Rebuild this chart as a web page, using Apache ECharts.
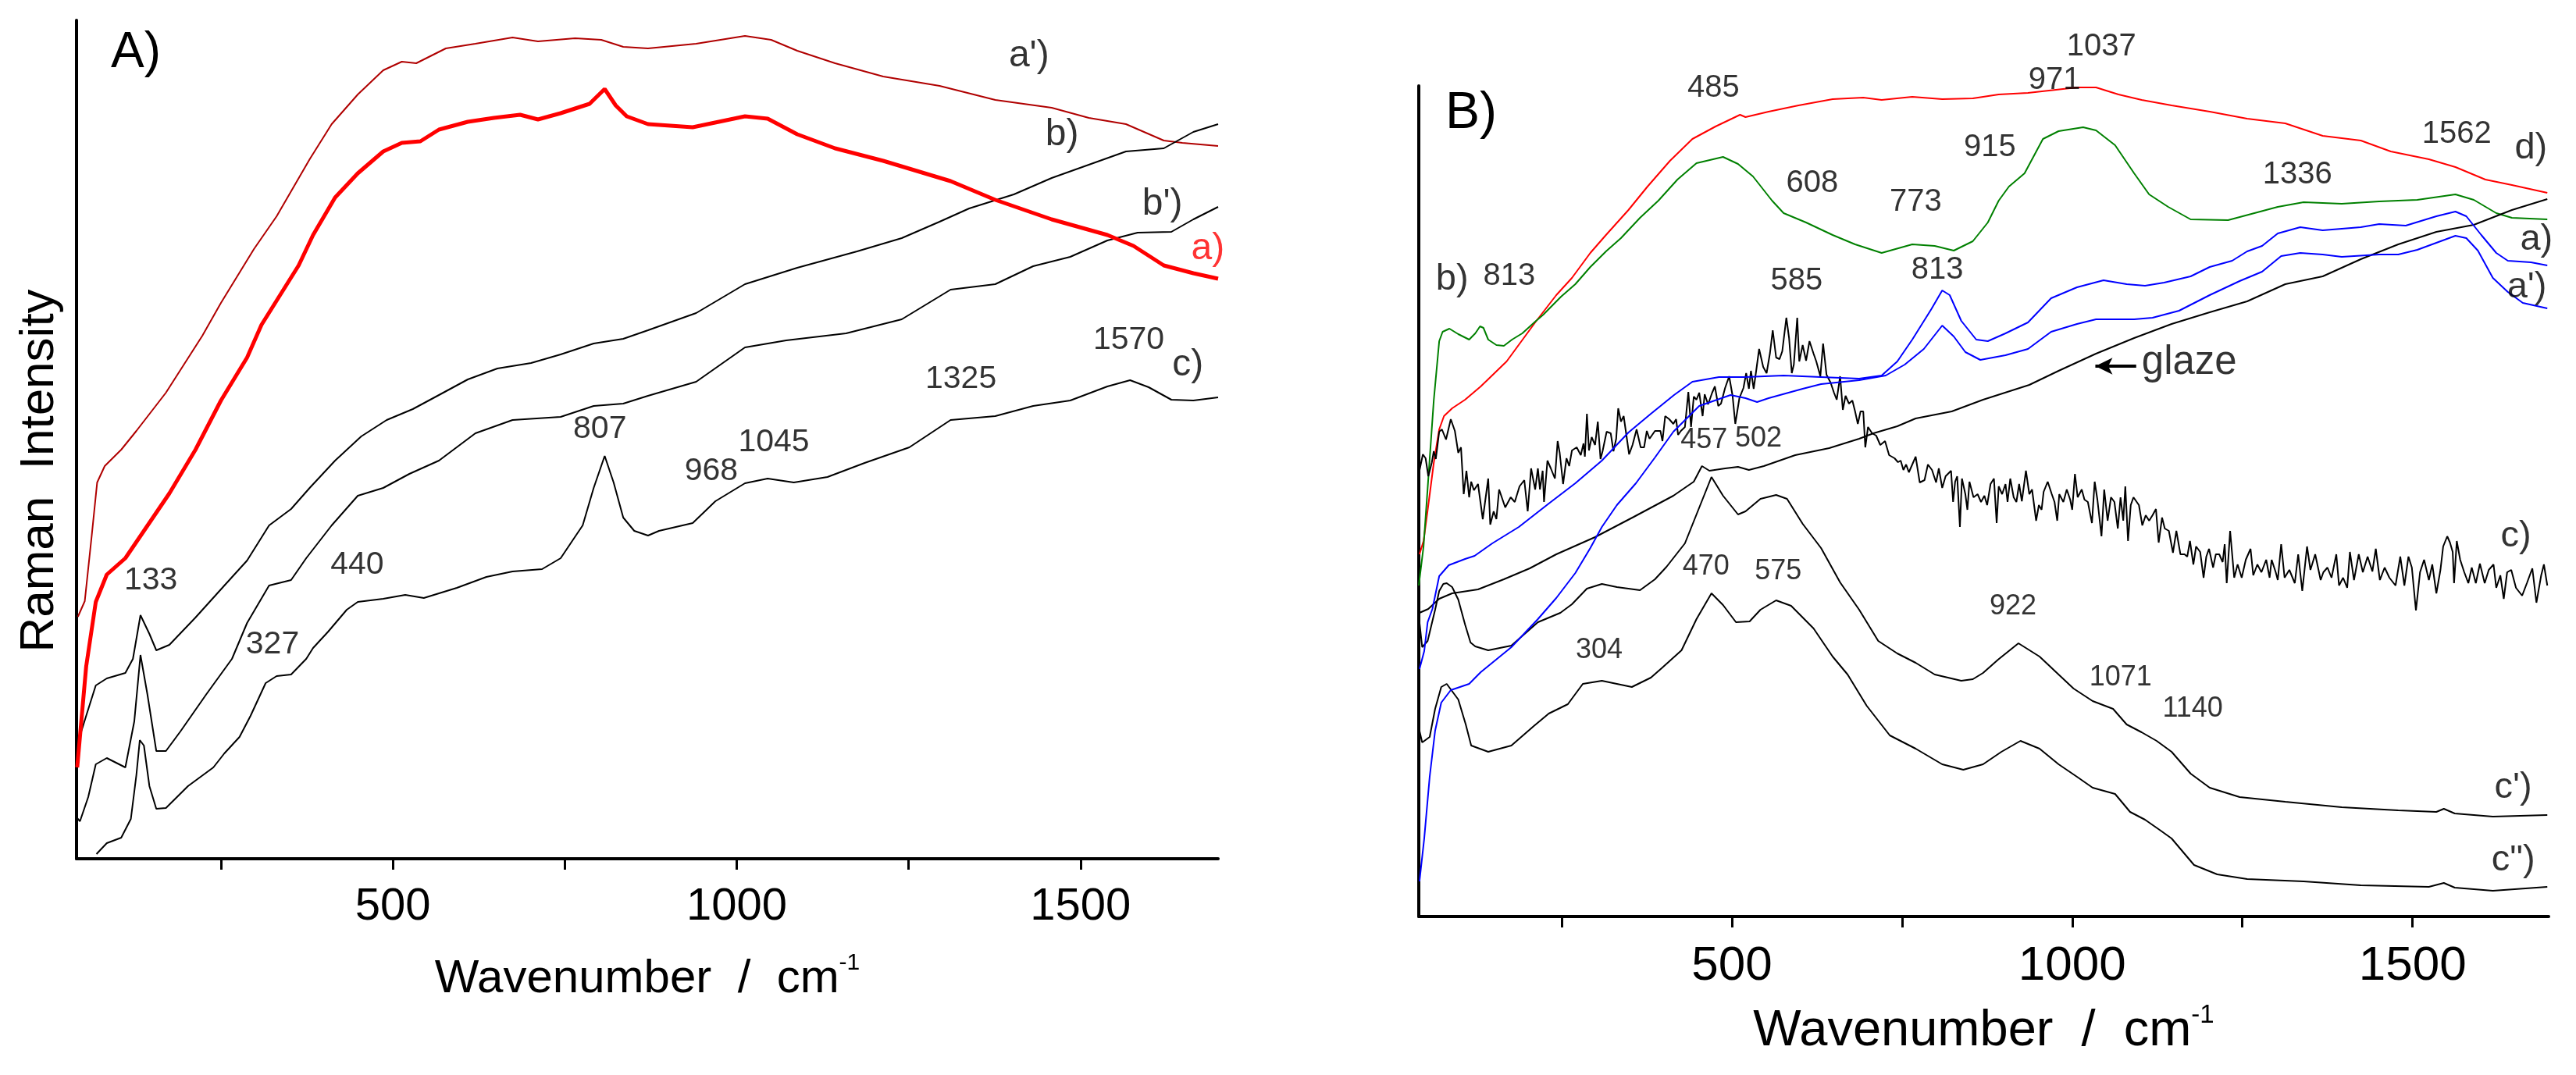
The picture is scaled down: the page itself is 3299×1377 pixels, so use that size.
<!DOCTYPE html>
<html>
<head>
<meta charset="utf-8">
<script src="https://cdn.jsdelivr.net/npm/echarts@6.0.0/dist/echarts.min.js"></script>
<style>
html, body { margin: 0; padding: 0; background: #fff; }
#chart { width: 3299px; height: 1377px; }
</style>
</head>
<body>
<div id="chart"></div>
<script>
// Raman spectra, intensity in arbitrary units

// ---- panel A ----
var aPrimeA = [[42,310],[52,330],[62,413],[70,482],[81,503],[105,524],[127,548],[170,597],[223,670],[250,712],[298,781],[331,823],[379,896],[411,941],[449,979],[486,1010],[513,1021],[534,1019],[577,1038],[620,1044],[674,1052],[711,1047],[765,1051],[803,1049],[835,1040],[871,1038],[941,1044],[1012,1054],[1050,1049],[1088,1035],[1143,1019],[1213,1002],[1295,990],[1376,972],[1458,962],[1512,949],[1566,941],[1621,920],[1648,917],[1700,913]];
var aA = [[41,117],[54,246],[68,329],[84,364],[111,385],[138,420],[175,468],[213,524],[250,587],[288,642],[309,684],[363,760],[384,799],[416,847],[449,878],[486,906],[513,917],[540,919],[567,934],[609,944],[647,949],[685,953],[711,947],[744,955],[786,967],[808,986],[824,965],[840,951],[871,941],[936,937],[1012,951],[1045,948],[1088,928],[1143,910],[1213,894],[1311,868],[1376,844],[1458,819],[1539,799],[1577,785],[1621,760],[1664,750],[1700,743]];
var bA = [[42,149],[54,183],[68,222],[84,231],[111,238],[122,256],[133,312],[146,288],[156,267],[175,274],[213,309],[255,350],[288,382],[320,427],[352,448],[379,475],[416,510],[454,541],[491,562],[529,576],[567,594],[609,614],[652,628],[701,635],[744,646],[792,660],[835,666],[871,677],[941,699],[1012,736],[1088,757],[1175,778],[1240,795],[1295,816],[1338,833],[1403,851],[1458,872],[1512,889],[1566,906],[1621,910],[1664,931],[1700,941]];
var bPrimeA = [[41,52],[45,48],[57,79],[68,121],[84,129],[111,117],[124,176],[133,261],[143,211],[156,138],[170,138],[191,163],[229,211],[266,256],[288,302],[320,350],[352,357],[374,385],[411,427],[449,465],[486,475],[524,493],[567,510],[620,545],[674,562],[744,566],[792,580],[835,583],[871,593],[941,611],[1012,655],[1072,664],[1159,673],[1240,691],[1311,729],[1376,736],[1431,759],[1485,771],[1539,792],[1583,802],[1632,803],[1664,819],[1700,835]];
var cA = [[69,6],[84,20],[105,27],[119,51],[127,107],[132,152],[138,145],[146,93],[156,64],[170,65],[202,93],[239,117],[255,135],[277,156],[293,183],[315,225],[331,234],[352,236],[374,256],[384,270],[406,291],[433,319],[449,329],[486,333],[518,338],[545,334],[593,347],[636,361],[674,368],[717,371],[744,385],[776,427],[792,475],[808,516],[821,482],[835,437],[851,420],[871,414],[887,420],[936,430],[969,458],[1012,481],[1045,487],[1083,482],[1132,489],[1186,507],[1251,527],[1311,562],[1376,567],[1431,580],[1485,587],[1539,605],[1572,613],[1599,604],[1632,588],[1664,587],[1700,591]];

// ---- panel B ----
var dB = [[41,464],[47,481],[54,527],[62,581],[70,624],[77,641],[89,651],[108,662],[131,679],[169,711],[211,761],[242,796],[265,818],[292,850],[315,873],[348,905],[376,935],[409,968],[442,996],[476,1012],[512,1027],[520,1024],[554,1031],[598,1039],[648,1047],[693,1049],[720,1046],[765,1050],[809,1047],[854,1048],[892,1053],[935,1055],[1007,1062],[1035,1062],[1068,1053],[1102,1046],[1146,1039],[1202,1031],[1257,1022],[1313,1016],[1368,1000],[1424,994],[1468,980],[1524,970],[1563,960],[1607,944],[1646,937],[1698,927]];
var bB = [[40,424],[47,474],[54,561],[62,661],[70,737],[75,749],[85,753],[98,746],[114,739],[123,747],[130,756],[135,754],[142,739],[154,732],[165,731],[177,739],[192,747],[211,762],[223,771],[249,794],[270,810],[292,832],[315,852],[337,869],[365,895],[392,917],[420,944],[448,965],[487,973],[509,964],[531,948],[559,917],[576,901],[609,889],[648,873],[681,861],[720,850],[765,861],[798,859],[826,853],[854,865],[876,889],[892,917],[907,935],[930,952],[957,996],[980,1006],[1016,1011],[1035,1007],[1063,988],[1091,952],[1113,925],[1141,909],[1174,893],[1229,892],[1302,909],[1340,915],[1396,913],[1451,916],[1507,918],[1563,925],[1590,918],[1623,901],[1646,895],[1698,893]];
var aB = [[41,317],[48,340],[53,377],[60,394],[70,436],[84,450],[108,458],[122,462],[148,478],[187,499],[231,529],[270,555],[309,584],[348,620],[381,644],[415,668],[442,685],[481,691],[520,691],[576,693],[631,691],[687,689],[720,693],[743,711],[765,739],[793,778],[809,802],[820,796],[837,763],[859,739],[876,737],[902,747],[935,761],[969,792],[1007,806],[1046,815],[1080,810],[1107,808],[1135,812],[1174,820],[1202,832],[1235,840],[1257,852],[1279,859],[1302,875],[1335,883],[1368,879],[1424,883],[1451,887],[1490,885],[1535,897],[1563,903],[1579,897],[1601,873],[1623,850],[1640,840],[1674,838],[1698,834]];
var aPrimeB = [[41,45],[48,100],[56,179],[64,238],[73,274],[87,290],[114,298],[131,313],[176,345],[215,381],[242,408],[270,440],[292,472],[309,499],[331,527],[359,555],[387,588],[414,621],[452,654],[498,668],[520,664],[537,659],[554,664],[604,676],[631,682],[687,687],[726,693],[754,707],[782,727],[809,757],[826,743],[843,723],[865,713],[902,719],[935,727],[969,749],[1007,759],[1035,765],[1091,765],[1118,767],[1157,776],[1202,796],[1246,814],[1279,826],[1307,846],[1335,850],[1368,848],[1396,845],[1451,848],[1479,848],[1507,854],[1535,863],[1563,872],[1579,869],[1596,853],[1618,818],[1640,800],[1662,786],[1698,779]];
var glazeB = [[41,389],[54,394],[70,407],[89,414],[127,419],[165,432],[203,446],[242,464],[299,486],[356,512],[414,539],[444,557],[456,577],[467,571],[490,574],[509,576],[525,572],[547,577],[593,591],[643,600],[687,612],[708,619],[743,628],[770,638],[823,647],[869,662],[937,681],[980,699],[1035,721],[1091,741],[1146,759],[1202,774],[1257,788],[1313,810],[1368,820],[1424,842],[1479,861],[1535,877],[1590,886],[1646,905],[1698,919]];
var cB = [[40,567],[46,592],[50,587],[54,564],[59,581],[62,596],[65,586],[70,621],[74,624],[80,611],[87,637],[93,622],[98,594],[102,601],[106,541],[110,571],[114,537],[117,557],[121,546],[127,554],[134,509],[142,561],[145,502],[150,519],[154,509],[158,547],[167,524],[175,537],[181,531],[188,551],[195,559],[200,519],[205,574],[211,547],[215,574],[218,547],[222,571],[224,531],[229,584],[234,574],[240,561],[244,609],[247,594],[252,554],[257,587],[261,577],[265,597],[272,601],[278,591],[282,606],[284,589],[287,644],[290,597],[294,614],[299,604],[303,634],[307,586],[310,596],[316,621],[322,619],[326,596],[330,612],[333,651],[337,634],[341,641],[349,592],[354,604],[360,624],[366,601],[371,601],[375,622],[379,612],[387,622],[395,622],[398,609],[402,641],[408,637],[414,631],[418,637],[421,617],[425,622],[431,627],[436,672],[440,627],[444,666],[448,662],[452,671],[457,641],[460,669],[465,656],[471,671],[475,679],[480,654],[484,657],[490,677],[496,692],[501,667],[505,631],[511,664],[517,677],[521,696],[525,676],[528,699],[532,676],[536,701],[540,727],[546,704],[551,696],[556,722],[560,751],[565,716],[570,714],[574,724],[580,767],[584,741],[588,696],[591,707],
  [596,767],[599,711],[604,732],[609,712],[614,737],[620,721],[624,711],[630,692],[634,734],[639,694],[645,684],[650,671],[654,662],[659,692],[663,649],[667,667],[672,657],[677,661],[681,647],[685,631],[689,647],[693,647],[696,601],[700,627],[706,619],[712,616],[718,604],[725,609],[731,591],[739,587],[744,582],[748,584],[752,572],[756,579],[760,569],[765,579],[770,589],[776,556],[783,559],[788,579],[794,572],[800,556],[804,574],[809,549],[814,564],[822,571],[825,531],[828,557],[831,564],[835,499],[838,561],[843,541],[846,521],[849,557],[855,537],[861,541],[866,531],[871,539],[875,527],[880,554],[885,561],[889,504],[892,551],[897,541],[902,554],[905,531],[909,561],[914,537],[918,531],[922,554],[926,532],[932,571],[937,541],[941,547],[947,507],[951,527],[955,521],[958,544],[964,557],[970,541],[974,531],[978,507],[981,541],[987,531],[992,547],[997,534],[1000,521],[1004,567],[1008,537],[1014,547],[1018,534],[1023,531],[1029,504],[1033,557],[1037,534],[1043,487],[1047,547],[1052,507],[1057,537],[1062,531],[1067,497],[1071,537],[1075,507],[1078,551],[1082,481],[1086,527],[1090,537],[1098,527],[1103,501],[1108,514],[1113,507],[1118,514],[1123,522],[1127,479],[1132,511],[1136,497],[1142,494],[1148,466],[1153,494],
  [1159,464],[1165,464],[1169,461],[1173,481],[1178,451],[1182,474],[1188,467],[1193,434],[1197,461],[1201,471],[1207,447],[1211,464],[1216,464],[1221,454],[1224,477],[1227,427],[1232,494],[1238,434],[1243,451],[1249,434],[1255,457],[1262,471],[1266,437],[1272,451],[1278,441],[1285,457],[1290,434],[1293,457],[1299,441],[1302,431],[1307,477],[1312,434],[1319,444],[1327,427],[1332,464],[1338,417],[1345,474],[1350,444],[1357,464],[1365,431],[1369,441],[1375,447],[1381,434],[1388,464],[1392,424],[1398,434],[1404,421],[1408,467],[1414,431],[1421,464],[1427,441],[1434,461],[1441,442],[1446,471],[1452,431],[1459,447],[1466,434],[1475,424],[1482,461],[1488,424],[1494,461],[1499,447],[1505,392],[1511,441],[1517,457],[1524,431],[1529,451],[1535,414],[1541,444],[1545,474],[1551,487],[1555,479],[1559,467],[1561,427],[1565,481],[1570,457],[1576,441],[1582,427],[1587,447],[1593,427],[1599,452],[1606,427],[1612,444],[1619,451],[1623,421],[1629,437],[1634,407],[1639,441],[1645,444],[1652,421],[1661,411],[1668,427],[1676,446],[1682,402],[1689,437],[1693,451],[1698,424]];
var cPrimeB = [[41,377],[45,345],[53,353],[64,393],[70,417],[76,426],[81,427],[89,422],[98,406],[108,374],[116,351],[123,346],[142,341],[176,347],[215,377],[248,389],[265,400],[287,420],[309,426],[331,422],[365,418],[387,432],[404,448],[431,478],[448,515],[470,563],[487,539],[509,515],[520,519],[542,535],[565,540],[581,535],[604,503],[631,472],[659,428],[687,393],[715,353],[743,337],[770,325],[798,310],[837,302],[854,304],[869,312],[891,329],[921,350],[952,333],[980,310],[1002,292],[1030,276],[1060,266],[1080,246],[1102,236],[1124,225],[1146,211],[1174,183],[1202,165],[1246,153],[1313,147],[1396,140],[1479,136],[1535,134],[1546,138],[1562,132],[1618,128],[1698,130]];
var cDoubleB = [[41,238],[45,223],[56,230],[64,266],[73,294],[81,298],[98,278],[109,246],[117,219],[142,211],[176,219],[209,244],[231,260],[259,272],[281,298],[309,302],[331,298],[353,294],[381,306],[398,319],[426,341],[448,381],[470,414],[487,399],[506,377],[526,378],[542,393],[565,405],[587,398],[620,369],[648,333],[670,310],[698,270],[732,232],[770,215],[809,195],[840,188],[869,195],[896,211],[924,225],[952,215],[980,195],[1007,179],[1030,165],[1063,157],[1085,134],[1107,124],[1130,110],[1146,100],[1179,66],[1213,54],[1257,48],[1340,45],[1424,40],[1524,38],[1546,43],[1562,37],[1618,33],[1698,38]];

// tick positions (cm-1)
var tickValues = [250, 500, 750, 1000, 1250, 1500];
var tickLabels = [500, 1000, 1500];

// annotations: [text, wavenumber, intensity]
var peaksA = [['133',148,356],['327',325,274],['440',448,376],['807',801,550],['968',963,496],['1045',1054,533],['1325',1326,614],['1570',1570,664]];
var namesA = [["a')",1425,1028],['b)',1473,927],["b')",1619,838],['c)',1656,632]];
var redNamesA = [['a)',1685,781]];
var peaksUpperB = [['485',473,1061],['813',173,820],['608',618,939],['773',770,915],['813',802,828],['585',595,814],['915',879,985],['971',974,1071],['1037',1043,1114],['1336',1331,950],['1562',1565,1002]];
var peaksLowerB = [['457',459,610],['502',539,612],['470',462,448],['575',568,442],['304',305,341],['922',913,397],['1071',1071,306],['1140',1177,266]];
var namesB = [['b)',89,816],['d)',1674,984],['a)',1682,867],["a')",1668,806],['c)',1652,487],["c')",1648,165],['c")',1648,72]];
var glazeNote = [['glaze',1172,709]];
var glazeArrow = [[1094,705],[1034,705]];

var FONT = 'Liberation Sans, Arial, sans-serif';

function curve(data, color, width, idx) {
    return {
        type: 'line', xAxisIndex: idx, yAxisIndex: idx,
        data: data, symbol: 'none', showSymbol: false,
        lineStyle: {color: color, width: width},
        itemStyle: {color: color},
        silent: true
    };
}

function notes(items, idx, size, color) {
    return {
        type: 'scatter', xAxisIndex: idx, yAxisIndex: idx,
        symbolSize: 1, clip: false, silent: true, z: 5,
        itemStyle: {color: 'rgba(0,0,0,0)'},
        label: {show: true, position: 'inside', formatter: '{b}',
                fontSize: size, fontFamily: FONT, color: color},
        data: items.map(function (t) { return {name: t[0], value: [t[1], t[2]]}; })
    };
}

function xAxisFor(idx, labelSize, nameSize, nameGap) {
    return {
        type: 'value', gridIndex: idx, min: 40, max: 1700,
        axisLine: {show: true, onZero: false, lineStyle: {color: '#000', width: 4}},
        axisTick: {show: true, customValues: tickValues, length: 14, lineStyle: {color: '#000', width: 3}},
        axisLabel: {customValues: tickLabels, fontSize: labelSize, fontFamily: FONT, color: '#000', margin: 33,
                    formatter: function (v) { return String(v); }},
        splitLine: {show: false},
        name: 'Wavenumber  /  cm{sup|-1}',
        nameLocation: 'middle',
        nameGap: nameGap,
        nameTextStyle: {
            fontSize: nameSize, fontFamily: FONT, color: '#000', lineHeight: nameSize + 10,
            rich: {sup: {fontSize: Math.round(nameSize * 0.5), fontFamily: FONT, color: '#000',
                         verticalAlign: 'top', lineHeight: nameSize + 10}}
        }
    };
}

function yAxisFor(idx, max) {
    return {
        type: 'value', gridIndex: idx, min: 0, max: max,
        axisLine: {show: true, lineStyle: {color: '#000', width: 4}},
        axisTick: {show: false}, axisLabel: {show: false}, splitLine: {show: false}
    };
}

var myChart = echarts.init(document.getElementById('chart'));

var glazeSeries = curve(glazeB, '#000', 2, 1);
// arrow pointing at the glaze spectrum
glazeSeries.markLine = {
    silent: true, symbol: ['none', 'arrow'], symbolSize: [16, 22],
    label: {show: false},
    lineStyle: {color: '#000', width: 4, type: 'solid'},
    data: [[{coord: glazeArrow[0]}, {coord: glazeArrow[1]}]]
};

var option = {
    animation: false,
    backgroundColor: '#fff',
    grid: [
        {left: 98, top: 26, width: 1462, height: 1074},
        {left: 1817, top: 110, width: 1447, height: 1064}
    ],
    xAxis: [xAxisFor(0, 58, 60, 119), xAxisFor(1, 62, 65, 110)],
    yAxis: [yAxisFor(0, 1074), yAxisFor(1, 1064)],
    graphic: [
        {type: 'text', x: 51, y: 603, rotation: Math.PI / 2,
         style: {text: 'Raman  Intensity', fontSize: 62, fontFamily: FONT, fill: '#000',
                 align: 'center', verticalAlign: 'middle', textAlign: 'center', textVerticalAlign: 'middle'}},
        {type: 'text', left: 142, top: 36,
         style: {text: 'A)', fontSize: 64, fontFamily: FONT, fill: '#000'}},
        {type: 'text', left: 1851, top: 113,
         style: {text: 'B)', fontSize: 66, fontFamily: FONT, fill: '#000'}}
    ],
    series: [
        curve(aPrimeA, '#b00000', 2, 0),
        curve(bA, '#000', 2, 0),
        curve(bPrimeA, '#000', 2, 0),
        curve(cA, '#000', 2, 0),
        curve(aA, '#ff0000', 5, 0),
        notes(peaksA, 0, 41, '#000'),
        notes(namesA, 0, 48, '#000'),
        notes(redNamesA, 0, 48, '#ff0000'),

        curve(dB, '#ff0000', 2, 1),
        curve(bB, '#008000', 2, 1),
        glazeSeries,
        curve(cB, '#000', 2, 1),
        curve(cPrimeB, '#000', 2, 1),
        curve(cDoubleB, '#000', 2, 1),
        curve(aPrimeB, '#0000ff', 2, 1),
        curve(aB, '#0000ff', 2, 1),
        notes(peaksUpperB, 1, 40, '#000'),
        notes(peaksLowerB, 1, 36, '#000'),
        notes(namesB, 1, 47, '#000'),
        notes(glazeNote, 1, 51, '#000')
    ]
};

myChart.setOption(option);
</script>
</body>
</html>
